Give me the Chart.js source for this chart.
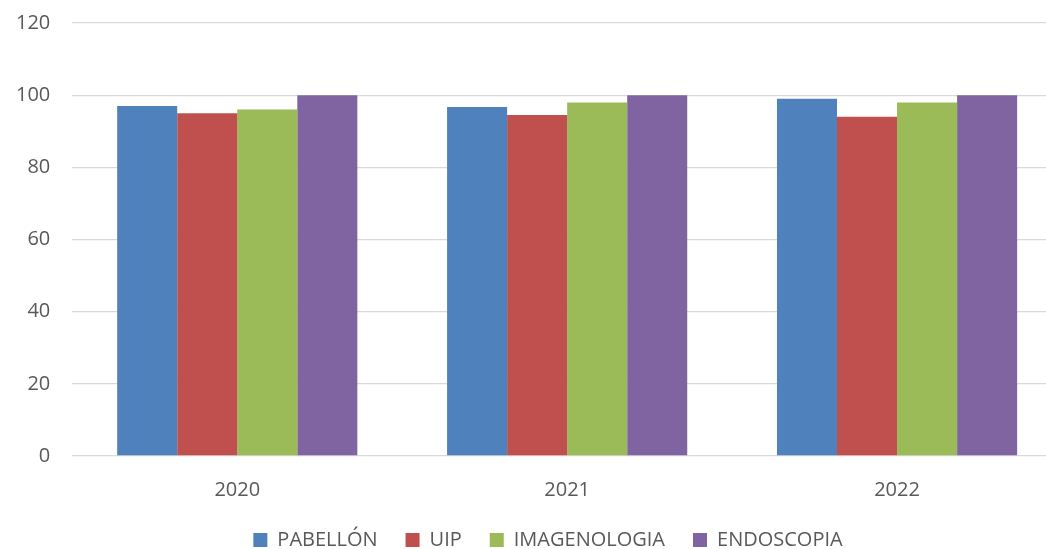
<!DOCTYPE html>
<html>
<head>
<meta charset="utf-8">
<script src="https://cdn.jsdelivr.net/npm/chart.js@4/dist/chart.umd.min.js"></script>
<style>
  html, body { margin: 0; padding: 0; background: #fff; overflow: hidden; }
  #wrap { width: 1062px; height: 549px; }
</style>
</head>
<body>
<div id="wrap"><canvas id="chart"></canvas></div>
<script>
// chart data
const years = ['2020', '2021', '2022'];
const pabellon = [97, 96.7, 99];
const uip = [95, 94.5, 94];
const imagenologia = [96, 98, 98];
const endoscopia = [100, 100, 100];
const yTicks = [0, 20, 40, 60, 80, 100, 120];

const textColor = '#595959';
const fontFamily = "'Open Sans', 'Noto Sans', sans-serif";

// original chart is a bit wider than the picture, so the legend sits right of center
const legendShift = {
  id: 'legendShift',
  afterLayout(chart) {
    chart.legend.left += 20;
    chart.legend.right += 20;
  }
};

const ctx = document.getElementById('chart').getContext('2d');

new Chart(ctx, {
  type: 'bar',
  data: {
    labels: years,
    datasets: [
      { label: 'PABELLÓN', data: pabellon, backgroundColor: '#4F81BD' },
      { label: 'UIP', data: uip, backgroundColor: '#C0504D' },
      { label: 'IMAGENOLOGIA', data: imagenologia, backgroundColor: '#9BBB59' },
      { label: 'ENDOSCOPIA', data: endoscopia, backgroundColor: '#8064A2' }
    ]
  },
  options: {
    responsive: true,
    maintainAspectRatio: false,
    animation: false,
    layout: { padding: { top: 23, left: -6, right: 0, bottom: -11 } },
    datasets: {
      bar: { barPercentage: 1, categoryPercentage: 0.728 }
    },
    plugins: {
      tooltip: { enabled: false },
      legend: {
        position: 'bottom',
        labels: {
          color: textColor,
          boxWidth: 14,
          boxHeight: 14,
          padding: 28,
          font: { family: fontFamily, size: 20 }
        }
      }
    },
    scales: {
      x: {
        grid: { display: false },
        border: { display: false },
        ticks: { color: textColor, padding: 14, font: { family: fontFamily, size: 20 } },
        afterFit: (scale) => { scale.height -= 14; }
      },
      y: {
        min: 0,
        max: 120,
        afterBuildTicks: (axis) => { axis.ticks = yTicks.map(v => ({ value: v })); },
        afterFit: (scale) => { scale.paddingTop = 0; scale.paddingBottom = 0; },
        grid: { color: '#d9d9d9', lineWidth: 1.3, drawTicks: false },
        border: { display: false },
        ticks: { color: textColor, padding: 22, font: { family: fontFamily, size: 20 } }
      }
    }
  },
  plugins: [legendShift]
});
</script>
</body>
</html>
